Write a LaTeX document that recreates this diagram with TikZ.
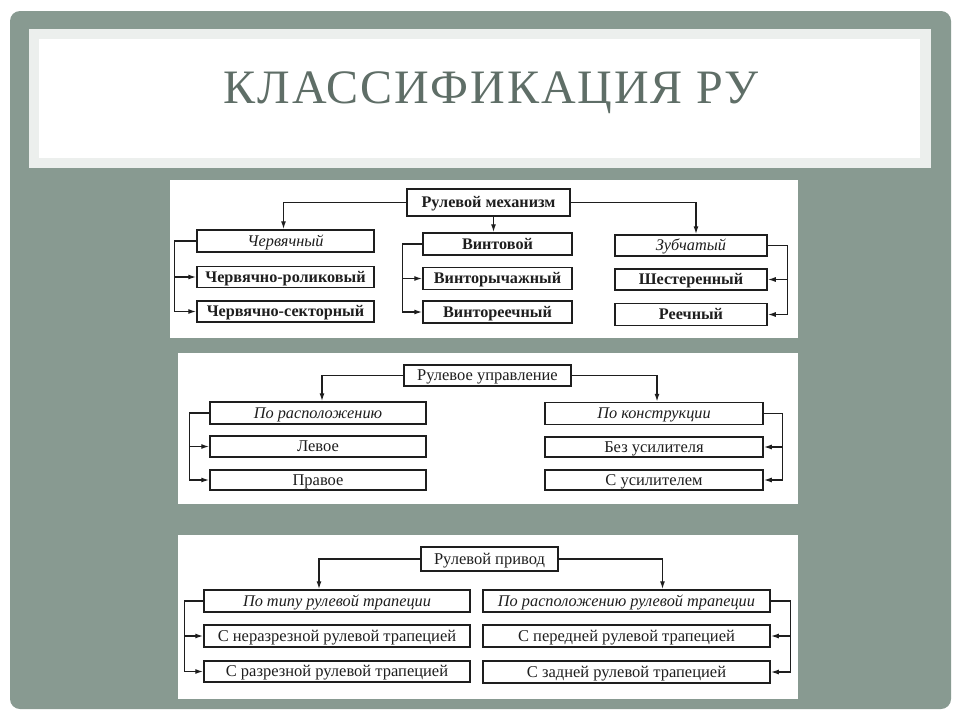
\documentclass[tikz,border=0pt]{standalone}
\usepackage{fontspec}
\setmainfont{Liberation Serif}
\newfontfamily\titlefont[LetterSpace=4]{Liberation Serif}
\usetikzlibrary{arrows.meta,calc}
\definecolor{framec}{RGB}{136,154,145}
\definecolor{lightc}{RGB}{236,239,237}
\definecolor{titlec}{RGB}{95,110,103}
\definecolor{ink}{RGB}{30,30,30}
\begin{document}
\begin{tikzpicture}[x=1pt,y=-1pt,
 bx/.style={draw=ink, line width=1.5pt, fill=white, inner sep=0pt, text=ink, text height=12.5pt, text depth=2pt, font=\fontsize{16.5}{16}\selectfont},
 bb/.style={bx, font=\fontsize{16.2}{16}\selectfont\bfseries},
 bi/.style={bx, font=\fontsize{16.3}{16}\selectfont\itshape},
 ln/.style={draw=ink, line width=1.4pt},
 arr/.style={ln, -{Latex[length=8pt,width=5pt]}},
]
\useasboundingbox (0,0) rectangle (960,720);
\fill[white] (0,0) rectangle (960,720);
\fill[framec, rounded corners=10pt] (10,11) rectangle (951,709);
\fill[lightc] (29,29) rectangle (931,168);
\fill[white] (39,39) rectangle (920,158);
\node[anchor=base, text=titlec, inner sep=0pt, font=\fontsize{48}{48}\titlefont] (title) at (491,103) {КЛАССИФИКАЦИЯ РУ};
% panels
\fill[white] (170,180) rectangle (798,338);
\fill[white] (178,353) rectangle (798,504);
\fill[white] (178,535) rectangle (798,699);
% ---- panel 1
\node[bb, minimum width=163pt, minimum height=27pt] (mech) at (488.5,202.5) {Рулевой механизм};
\node[bi, minimum width=177pt, minimum height=22pt] (cherv) at (285.5,241) {Червячный};
\node[bb, minimum width=177pt, minimum height=21pt] (rol) at (285.5,277) {Червячно-роликовый};
\node[bb, minimum width=177pt, minimum height=21pt] (sekt) at (285.5,311.5) {Червячно-секторный};
\node[bb, minimum width=149pt, minimum height=22pt] (vint) at (497.5,244) {Винтовой};
\node[bb, minimum width=149pt, minimum height=22pt] (vrych) at (497.5,278.5) {Винторычажный};
\node[bb, minimum width=149pt, minimum height=22pt] (vreech) at (497.5,312) {Винтореечный};
\node[bi, minimum width=152pt, minimum height=21pt] (zub) at (691,245.5) {Зубчатый};
\node[bb, minimum width=152pt, minimum height=21pt] (shest) at (691,279.5) {Шестеренный};
\node[bb, minimum width=152pt, minimum height=22pt] (reech) at (691,314.5) {Реечный};
\draw[arr] (mech.west) -| ([xshift=-2pt]cherv.north);
\draw[arr] ([xshift=-4pt]mech.south -| vint.north) -- ([xshift=-4pt]vint.north);
\draw[arr] (mech.east) -| ([xshift=5pt]zub.north);
\draw[arr] (cherv.west) -- ++(-22,0) |- (rol.west);
\draw[arr] (cherv.west) -- ++(-22,0) |- (sekt.west);
\draw[arr] (vint.west) -- ++(-20,0) |- (vrych.west);
\draw[arr] (vint.west) -- ++(-20,0) |- (vreech.west);
\draw[arr] (zub.east) -- ++(20,0) |- (shest.east);
\draw[arr] (zub.east) -- ++(20,0) |- (reech.east);
% ---- panel 2
\node[bx, minimum width=167pt, minimum height=21pt] (upr) at (487.5,375.5) {Рулевое управление};
\node[bi, minimum width=216pt, minimum height=22pt] (rasp) at (318,413) {По расположению};
\node[bx, minimum width=216pt, minimum height=21pt] (lev) at (318,446.5) {Левое};
\node[bx, minimum width=216pt, minimum height=20pt] (prav) at (318,480) {Правое};
\node[bi, minimum width=218pt, minimum height=22pt] (konstr) at (654,413.5) {По конструкции};
\node[bx, minimum width=218pt, minimum height=20pt] (bez) at (654,447) {Без усилителя};
\node[bx, minimum width=218pt, minimum height=20pt] (susil) at (654,480) {С усилителем};
\draw[arr] (upr.west) -| ([xshift=4pt]rasp.north);
\draw[arr] (upr.east) -| ([xshift=3pt]konstr.north);
\draw[arr] (rasp.west) -- ++(-20,0) |- (lev.west);
\draw[arr] (rasp.west) -- ++(-20,0) |- (prav.west);
\draw[arr] (konstr.east) -- ++(19,0) |- (bez.east);
\draw[arr] (konstr.east) -- ++(19,0) |- (susil.east);
% ---- panel 3
\node[bx, minimum width=137pt, minimum height=24pt] (priv) at (489.5,559) {Рулевой привод};
\node[bi, minimum width=266pt, minimum height=22pt] (tip) at (337,601) {По типу рулевой трапеции};
\node[bx, minimum width=266pt, minimum height=22pt] (nerazr) at (337,636) {С неразрезной рулевой трапецией};
\node[bx, minimum width=266pt, minimum height=21pt] (razr) at (337,671.5) {С разрезной рулевой трапецией};
\node[bi, minimum width=287pt, minimum height=22pt] (rtr) at (626.5,601) {По расположению рулевой трапеции};
\node[bx, minimum width=287pt, minimum height=22pt] (pered) at (626.5,636) {С передней рулевой трапецией};
\node[bx, minimum width=287pt, minimum height=22pt] (zad) at (626.5,672) {С задней рулевой трапецией};
\draw[arr] (priv.west) -| ([xshift=-18pt]tip.north);
\draw[arr] (priv.east) -| ([xshift=36pt]rtr.north);
\draw[arr] (tip.west) -- ++(-19,0) |- (nerazr.west);
\draw[arr] (tip.west) -- ++(-19,0) |- (razr.west);
\draw[arr] (rtr.east) -- ++(20,0) |- (pered.east);
\draw[arr] (rtr.east) -- ++(20,0) |- (zad.east);
\end{tikzpicture}
\end{document}
